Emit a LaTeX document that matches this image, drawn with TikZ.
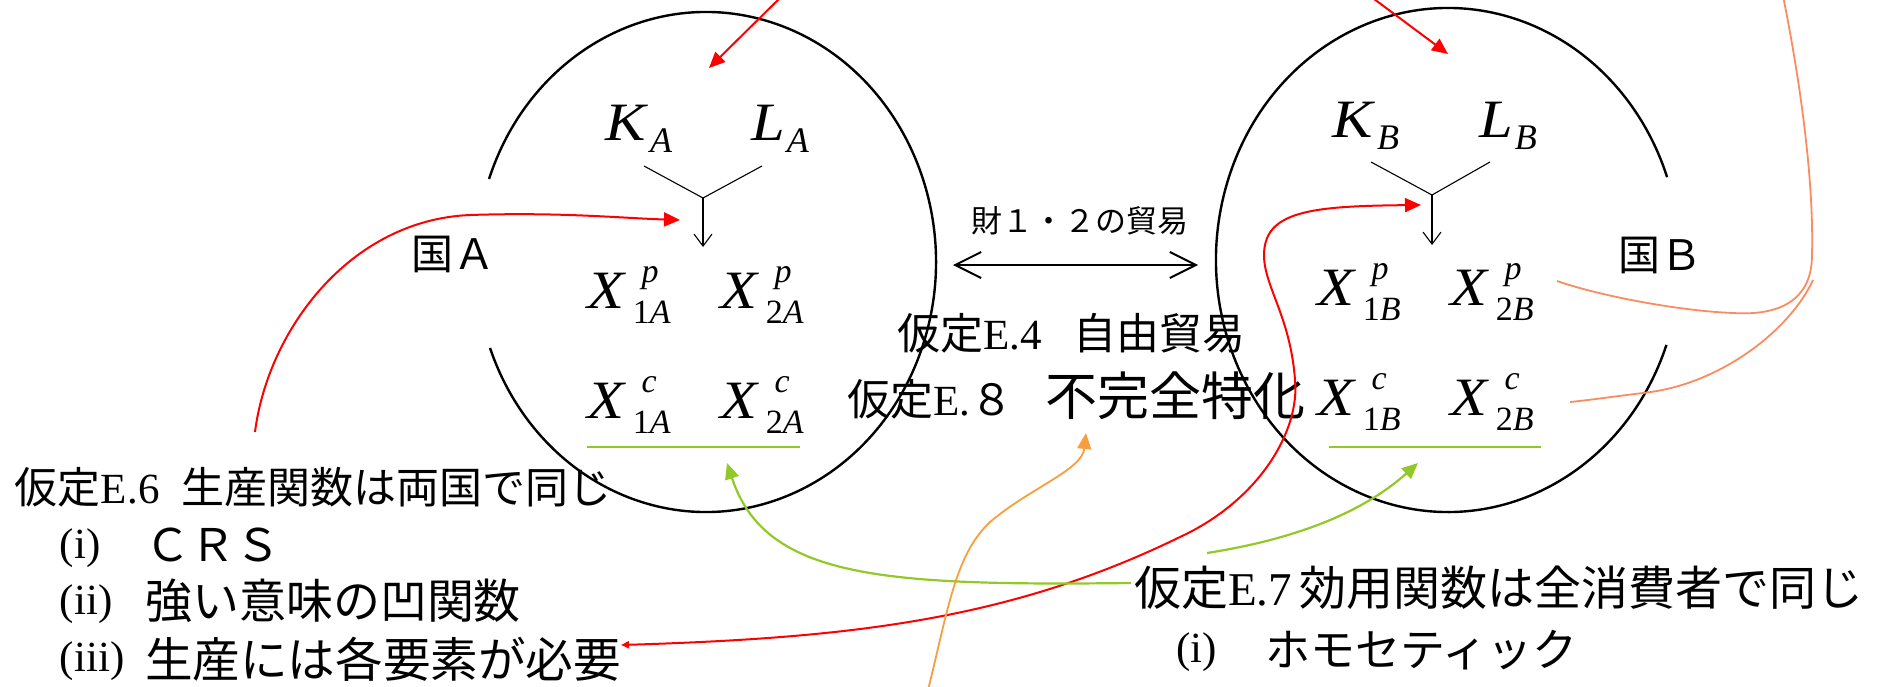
\documentclass[tikz,border=0pt]{standalone}
\usepackage{graphicx}
\usepackage{fontspec}
\setmainfont{Liberation Serif}
\newfontfamily\cjk{Noto Sans CJK JP}
\usetikzlibrary{arrows.meta}
\definecolor{myred}{RGB}{255,0,0}
\definecolor{mygreen}{RGB}{146,200,40}
\definecolor{myorange}{RGB}{248,158,62}
\definecolor{mysalmon}{RGB}{250,140,95}
\newcommand{\J}[1]{{\cjk #1}}
\newcommand{\fs}[1]{\fontsize{#1}{#1}\selectfont}
\newcommand{\wide}[1]{\scalebox{1.12}[1]{\textit{#1}}}
\newcommand{\XV}[3]{\wide{#1}\rlap{\kern0.29em\raisebox{0.48em}{\fs{17}\textit{#2}}}\kern0.13em\raisebox{-0.28em}{\fs{17}#3}}
\newcommand{\KV}[2]{\wide{#1}\kern0.04em\raisebox{-0.24em}{\fs{18}\textit{#2}}}
\begin{document}
\begin{tikzpicture}[x=0.5pt,y=-0.5pt,
  txt/.style={inner sep=0pt,outer sep=0pt,anchor=west},
  var/.style={inner sep=0pt,outer sep=0pt,anchor=base west,font=\fs{27}},
  ring/.style={line width=1.2pt},
  thinline/.style={line width=0.55pt},
  redline/.style={draw=myred,line width=1pt},
  tipbig/.style={-{Triangle[length=8pt,width=7pt]}},
  greenline/.style={draw=mygreen,line width=1.1pt},
  orangeline/.style={draw=myorange,line width=0.9pt},
  salmonline/.style={draw=mysalmon,line width=0.9pt},
  uline/.style={draw=mygreen,line width=1.2pt},
]
\useasboundingbox (0,0) rectangle (1897,686);
\clip (0,0) rectangle (1897,686);

% circles
\draw[ring] (706,262) ++(199.4:230 and 250) arc[start angle=199.4,end angle=519.9,x radius=230,y radius=250];
\draw[ring] (1448,260) ++(19.7:232 and 252) arc[start angle=19.7,end angle=340.8,x radius=232,y radius=252];

% country labels
\node[txt,font=\fs{21}] (cA) at (411,254) {\J{国Ａ}};
\node[txt,font=\fs{21}] (cB) at (1618,255) {\J{国Ｂ}};

% country A variables
\node[var] (KA) at (605,140) {\KV{K}{A}};
\node[var] (LA) at (751,140) {\KV{L}{A}};
\node[var] (X1pA) at (587,308) {\XV{X}{p}{1\textit{A}}};
\node[var] (X2pA) at (720,308) {\XV{X}{p}{2\textit{A}}};
\node[var] (X1cA) at (587,418) {\XV{X}{c}{1\textit{A}}};
\node[var] (X2cA) at (720,418) {\XV{X}{c}{2\textit{A}}};
\coordinate (yAl) at (644,166);
\coordinate (yAr) at (762,166);
\coordinate (yAj) at (703,198);
\coordinate (yAe) at (703,247);
\draw[thinline] (yAl) -- (yAj) -- (yAr);
\draw[thinline,-{Straight Barb[length=6pt,width=9pt]}] (yAj) -- (yAe);
\coordinate (uAl) at (587,447);
\coordinate (uAr) at (800,447);
\draw[uline] (uAl) -- (uAr);

% country B variables
\node[var] (KB) at (1332,137) {\KV{K}{B}};
\node[var] (LB) at (1479,137) {\KV{L}{B}};
\node[var] (X1pB) at (1317,305) {\XV{X}{p}{1\textit{B}}};
\node[var] (X2pB) at (1450,305) {\XV{X}{p}{2\textit{B}}};
\node[var] (X1cB) at (1317,415) {\XV{X}{c}{1\textit{B}}};
\node[var] (X2cB) at (1450,415) {\XV{X}{c}{2\textit{B}}};
\coordinate (yBl) at (1371,162);
\coordinate (yBr) at (1490,162);
\coordinate (yBj) at (1432,195);
\coordinate (yBe) at (1432,245);
\draw[thinline] (yBl) -- (yBj) -- (yBr);
\draw[thinline,-{Straight Barb[length=6pt,width=9pt]}] (yBj) -- (yBe);
\coordinate (uBl) at (1329,447);
\coordinate (uBr) at (1541,447);
\draw[uline] (uBl) -- (uBr);

% trade
\node[inner sep=0pt,font=\fs{15.5}] (trade) at (1080,221) {\J{財１・２の貿易}};
\coordinate (trL) at (953,265);
\coordinate (trR) at (1198,265);
\draw[line width=1pt,{Straight Barb[length=13pt,width=13pt]}-{Straight Barb[length=13pt,width=13pt]}] (trL) -- (trR);

% centre assumptions
\node[txt,font=\fs{21.5}] (t4) at (897,333) {\J{仮定}E.4\hspace{16pt}\J{自由貿易}};
\node[txt,font=\fs{21.5}] (t8) at (847,396) {\J{仮定}E.\J{８}\hspace{16pt}{\fs{26}\J{不完全特化}}};

% left block
\node[txt,font=\fs{21.5}] (t6) at (15,487) {\J{仮定}E.6\hspace{11pt}\J{生産関数は両国で同じ}};
\node[txt,font=\fs{21.5}] (i1) at (60,548) {(i)};
\node[txt,font=\fs{22.5}] (c1) at (145,545) {\J{ＣＲＳ}};
\node[txt,font=\fs{21.5}] (i2) at (60,604) {(ii)};
\node[txt,font=\fs{23.5}] (c2) at (145,601) {\J{強い意味の凹関数}};
\node[txt,font=\fs{21.5}] (i3) at (60,661) {(iii)};
\node[txt,font=\fs{23.8}] (c3) at (145,659) {\J{生産には各要素が必要}};

% right block
\node[txt,font=\fs{23.5}] (t7) at (1134,588) {\J{仮定}E.7\hspace{4pt}\J{効用関数は全消費者で同じ}};
\node[txt,font=\fs{21.5}] (j1) at (1176,652) {(i)};
\node[txt,font=\fs{22.5}] (d1) at (1265,650) {\J{ホモセティック}};

% red arrows from top
\coordinate (rA0) at (782,-4);
\coordinate (rAt) at (709,68);
\draw[redline,tipbig] (rA0) -- (rAt);
\coordinate (rB0) at (1370,-4);
\coordinate (rBt) at (1448,54);
\draw[redline,tipbig] (rB0) -- (rBt);

% red curve E.6 -> A production
\coordinate (r6s) at (255,432);
\coordinate (r6t) at (680,220);
\draw[redline,tipbig] (r6s) .. controls (268,330) and (350,220) .. (470,215)
   .. controls (560,212) and (620,218) .. (r6t);

% red curve (iii) -> B production
\coordinate (r3s) at (621,645);
\coordinate (r3t) at (1421,205);
\draw[redline,{Triangle[length=4pt,width=3.5pt]}-{Triangle[length=8pt,width=7pt]}] (r3s)
   .. controls (850,638) and (1010,620) .. (1180,537)
   .. controls (1260,500) and (1300,430) .. (1295,380)
   .. controls (1290,310) and (1258,280) .. (1265,245)
   .. controls (1272,210) and (1320,206) .. (r3t);

% green curves E.7 -> consumption
\coordinate (g1s) at (1131,583);
\coordinate (g1t) at (727,463);
\draw[greenline,tipbig] (g1s) .. controls (880,586) and (765,578) .. (g1t);
\coordinate (g2s) at (1207,553);
\coordinate (g2t) at (1418,463);
\draw[greenline,tipbig] (g2s) .. controls (1290,540) and (1360,515) .. (g2t);

% orange arrow to incomplete specialisation
\coordinate (o0) at (928,690);
\coordinate (ot) at (1086,433);
\draw[orangeline,tipbig] (o0) .. controls (948,610) and (955,555) .. (990,522)
   .. controls (1030,488) and (1082,470) .. (ot);

% salmon bracket to country B
\coordinate (s0) at (1783,-4);
\coordinate (sj) at (1812,255);
\coordinate (sp) at (1557,281);
\coordinate (sc) at (1570,402);
\draw[salmonline] (s0) .. controls (1800,80) and (1814,180) .. (sj)
   .. controls (1812,300) and (1780,316) .. (1733,313)
   .. controls (1680,311) and (1600,296) .. (sp);
\draw[salmonline] (1813,280) .. controls (1790,330) and (1720,385) .. (1643,393)
   .. controls (1610,397) and (1590,400) .. (sc);
\end{tikzpicture}
\end{document}
